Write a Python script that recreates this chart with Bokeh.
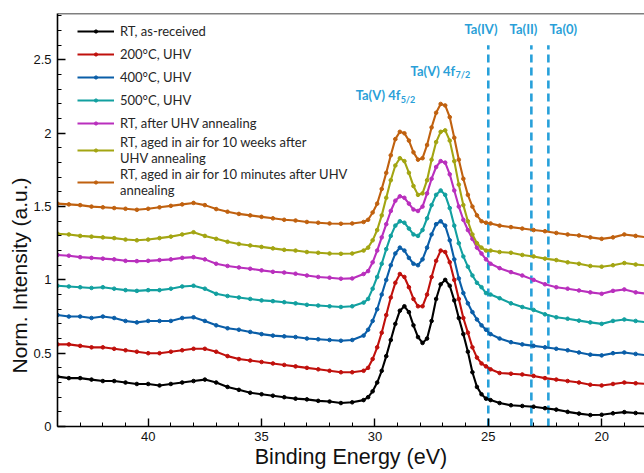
from bokeh.plotting import figure
from bokeh.models import (ColumnDataSource, Range1d, FixedTicker, Legend, LegendItem,
                          Span, Label, Title, CustomJSTickFormatter)
from bokeh.embed import file_html
from bokeh.resources import INLINE

# ---------------- data ----------------
energy = ([44.0, 43.5, 43.0, 42.5, 42.0, 41.5, 41.0, 40.5, 40.0, 39.5, 39.0, 38.5, 38.0, 37.5,
           37.0, 36.5, 36.0, 35.5, 35.0, 34.5, 34.0, 33.5, 33.0, 32.5, 32.0, 31.5, 31.0, 30.5]
          + [30.3, 30.1, 29.9, 29.7, 29.5, 29.3, 29.1, 28.9, 28.7, 28.5, 28.3, 28.1, 27.9, 27.7,
             27.5, 27.3, 27.1, 26.9, 26.7, 26.5, 26.3, 26.1, 25.9, 25.7, 25.5, 25.3, 25.1]
          + [24.9, 24.5, 24.0, 23.5, 23.0, 22.5, 22.0, 21.5, 21.0, 20.5, 20.0, 19.5, 19.0, 18.5, 18.0])

rt_received = ([0.34, 0.33, 0.33, 0.32, 0.31, 0.31, 0.30, 0.29, 0.29, 0.28, 0.29, 0.30, 0.31, 0.32,
                0.30, 0.27, 0.25, 0.23, 0.22, 0.21, 0.20, 0.19, 0.185, 0.175, 0.17, 0.16, 0.165, 0.18]
               + [0.20, 0.24, 0.30, 0.38, 0.48, 0.59, 0.70, 0.79, 0.82, 0.78, 0.69, 0.61, 0.57, 0.60,
                  0.72, 0.87, 0.97, 1.00, 0.96, 0.86, 0.74, 0.63, 0.51, 0.37, 0.27, 0.22, 0.19]
               + [0.18, 0.16, 0.145, 0.14, 0.135, 0.125, 0.115, 0.10, 0.088, 0.078, 0.08, 0.09, 0.098, 0.092, 0.087])

uhv_200 = ([0.56, 0.56, 0.55, 0.54, 0.54, 0.53, 0.52, 0.51, 0.50, 0.50, 0.51, 0.52, 0.53, 0.53,
            0.51, 0.48, 0.46, 0.45, 0.44, 0.43, 0.42, 0.41, 0.40, 0.39, 0.38, 0.37, 0.37, 0.38]
           + [0.40, 0.46, 0.54, 0.64, 0.76, 0.88, 0.98, 1.04, 1.02, 0.95, 0.87, 0.82, 0.82, 0.90,
              1.02, 1.13, 1.20, 1.19, 1.12, 1.00, 0.87, 0.74, 0.64, 0.54, 0.47, 0.43, 0.41]
           + [0.39, 0.365, 0.36, 0.355, 0.345, 0.33, 0.32, 0.31, 0.30, 0.285, 0.28, 0.29, 0.30, 0.295, 0.29])

uhv_400 = ([0.76, 0.75, 0.75, 0.74, 0.75, 0.74, 0.72, 0.71, 0.72, 0.72, 0.72, 0.74, 0.745, 0.72,
            0.69, 0.67, 0.66, 0.645, 0.63, 0.62, 0.615, 0.61, 0.60, 0.595, 0.59, 0.585, 0.59, 0.62]
           + [0.66, 0.72, 0.80, 0.90, 1.00, 1.10, 1.18, 1.22, 1.20, 1.15, 1.11, 1.10, 1.14, 1.22,
              1.31, 1.38, 1.40, 1.37, 1.27, 1.14, 1.01, 0.91, 0.84, 0.78, 0.73, 0.69, 0.66]
           + [0.63, 0.60, 0.575, 0.56, 0.55, 0.54, 0.53, 0.52, 0.505, 0.49, 0.485, 0.50, 0.505, 0.495, 0.485])

uhv_500 = ([0.96, 0.955, 0.95, 0.945, 0.95, 0.94, 0.93, 0.925, 0.93, 0.93, 0.94, 0.955, 0.96, 0.94,
            0.905, 0.89, 0.88, 0.87, 0.86, 0.855, 0.848, 0.84, 0.83, 0.825, 0.82, 0.815, 0.82, 0.845]
           + [0.87, 0.94, 1.02, 1.11, 1.21, 1.30, 1.37, 1.40, 1.39, 1.35, 1.31, 1.30, 1.34, 1.42,
              1.51, 1.58, 1.61, 1.58, 1.49, 1.37, 1.25, 1.16, 1.09, 1.03, 0.98, 0.95, 0.91]
           + [0.90, 0.875, 0.84, 0.815, 0.795, 0.765, 0.745, 0.735, 0.722, 0.71, 0.70, 0.72, 0.73, 0.72, 0.71])

rt_after = ([1.17, 1.165, 1.155, 1.15, 1.145, 1.14, 1.13, 1.128, 1.13, 1.135, 1.14, 1.15, 1.155, 1.14,
             1.11, 1.095, 1.085, 1.076, 1.065, 1.055, 1.05, 1.042, 1.03, 1.02, 1.015, 1.008, 1.01, 1.04]
            + [1.06, 1.12, 1.20, 1.29, 1.38, 1.47, 1.54, 1.57, 1.56, 1.52, 1.48, 1.47, 1.50, 1.59,
               1.69, 1.77, 1.81, 1.80, 1.72, 1.61, 1.50, 1.41, 1.34, 1.28, 1.22, 1.18, 1.14]
            + [1.11, 1.08, 1.053, 1.03, 1.00, 0.97, 0.95, 0.94, 0.928, 0.915, 0.905, 0.925, 0.935, 0.915, 0.905])

aged_weeks = ([1.315, 1.31, 1.30, 1.295, 1.29, 1.285, 1.275, 1.27, 1.275, 1.285, 1.295, 1.31, 1.325, 1.30,
               1.28, 1.26, 1.245, 1.235, 1.225, 1.215, 1.205, 1.20, 1.19, 1.185, 1.18, 1.178, 1.18, 1.20]
              + [1.22, 1.27, 1.34, 1.44, 1.56, 1.68, 1.78, 1.83, 1.81, 1.73, 1.64, 1.58, 1.59, 1.68,
                 1.82, 1.94, 2.01, 2.02, 1.95, 1.81, 1.65, 1.51, 1.40, 1.31, 1.25, 1.22, 1.20]
              + [1.20, 1.19, 1.185, 1.17, 1.16, 1.145, 1.135, 1.12, 1.11, 1.095, 1.09, 1.10, 1.115, 1.105, 1.098])

aged_minutes = ([1.52, 1.515, 1.51, 1.50, 1.495, 1.49, 1.485, 1.478, 1.485, 1.495, 1.505, 1.515, 1.525, 1.51,
                 1.483, 1.465, 1.45, 1.44, 1.43, 1.42, 1.41, 1.405, 1.395, 1.39, 1.385, 1.383, 1.385, 1.395]
                + [1.41, 1.46, 1.52, 1.62, 1.73, 1.85, 1.96, 2.01, 2.00, 1.95, 1.87, 1.82, 1.83, 1.92,
                   2.04, 2.14, 2.20, 2.19, 2.11, 1.97, 1.82, 1.69, 1.58, 1.50, 1.44, 1.40, 1.39]
                + [1.385, 1.37, 1.36, 1.35, 1.34, 1.332, 1.32, 1.31, 1.303, 1.29, 1.28, 1.29, 1.31, 1.30, 1.29])

series_names = ["RT, as-received", "200°C, UHV", "400°C, UHV", "500°C, UHV",
                "RT, after UHV annealing",
                "RT, aged in air for 10 weeks after\nUHV annealing",
                "RT, aged in air for 10 minutes after UHV\nannealing"]
series_values = [rt_received, uhv_200, uhv_400, uhv_500, rt_after, aged_weeks, aged_minutes]
series_colors = ["#000000", "#c0100c", "#0a5ea8", "#12a0a0", "#b92fbd", "#a3a512", "#c0610f"]

ref_energies = [25.0, 23.1, 22.35]          # Ta(IV), Ta(II), Ta(0)
ref_labels = ["Ta(IV)", "Ta(II)", "Ta(0)"]

x_major = [20, 25, 30, 35, 40]
x_minor = [18, 19, 21, 22, 23, 24, 26, 27, 28, 29, 31, 32, 33, 34, 36, 37, 38, 39, 41, 42, 43, 44]
y_major = [0, 0.5, 1, 1.5, 2, 2.5]
y_minor = [0.1, 0.2, 0.3, 0.4, 0.6, 0.7, 0.8, 0.9, 1.1, 1.2, 1.3, 1.4, 1.6, 1.7, 1.8, 1.9,
           2.1, 2.2, 2.3, 2.4, 2.6, 2.7, 2.8]

# ---------------- figure ----------------
p = figure(width=644, height=473, output_backend="svg", toolbar_location=None,
           x_range=Range1d(44.0, 18.11), y_range=Range1d(0, 2.817),
           min_border_left=57, min_border_right=0, min_border_top=13, min_border_bottom=47)
p.outline_line_color = None
p.grid.visible = False
p.background_fill_color = "white"

AX_FONT = "Liberation Sans"
for ax in (p.xaxis[0], p.yaxis[0]):
    ax.axis_line_color = "black"
    ax.axis_line_width = 1.6
    ax.major_tick_in = 8
    ax.major_tick_out = 0
    ax.minor_tick_in = 4
    ax.minor_tick_out = 0
    ax.major_tick_line_width = 1.4
    ax.minor_tick_line_width = 1
    ax.major_label_text_font = AX_FONT
    ax.major_label_text_font_size = "13px"
    ax.major_label_text_color = "#111111"
    ax.axis_label_text_font = AX_FONT
    ax.axis_label_text_font_size = "21.5px"
    ax.axis_label_text_font_style = "normal"
    ax.axis_label_text_color = "#111111"

p.xaxis[0].ticker = FixedTicker(ticks=x_major, minor_ticks=x_minor)
p.yaxis[0].ticker = FixedTicker(ticks=y_major, minor_ticks=y_minor)
p.yaxis[0].formatter = CustomJSTickFormatter(code="return Number(tick.toFixed(1)).toString();")
p.xaxis[0].axis_label = "Binding Energy (eV)"
p.xaxis[0].major_label_standoff = 5
p.yaxis[0].major_label_standoff = 6
p.xaxis[0].axis_label_standoff = 1

# y-axis title: in the reference it sits below the frame centre, so use a side title
p.add_layout(Title(text="Norm. Intensity (a.u.)", align="left", offset=53,
                   text_font=AX_FONT, text_font_size="21px", text_font_style="normal",
                   text_color="#111111", standoff=0), "left")

p.add_layout(Span(location=2.817, dimension="width", line_color="black", line_width=1.6))

# reference dashed lines
ref_src = ColumnDataSource(dict(x=ref_energies, y0=[0] * 3, y1=[2.6] * 3))
p.segment(x0="x", y0="y0", x1="x", y1="y1", source=ref_src,
          line_color="#27a0da", line_width=2.6, line_dash="8 5")

items = []
for name, vals, col in zip(series_names, series_values, series_colors):
    src = ColumnDataSource(dict(x=energy, y=vals))
    r1 = p.line("x", "y", source=src, line_color=col, line_width=2.1)
    r2 = p.scatter("x", "y", source=src, size=3.6, color=col)
    items.append(LegendItem(label=name, renderers=[r1, r2]))

legend = Legend(items=items, location=(20, 228), spacing=0, padding=0, margin=0,
                glyph_width=37, glyph_height=8, label_height=23, label_standoff=6,
                label_text_font="Lato", label_text_font_size="13px",
                label_text_line_height=1.35,
                label_text_color="#262626", border_line_color=None,
                background_fill_alpha=0)
p.add_layout(legend)

BLUE = "#2a9fd8"
LFONT = "Lato"
for xe, lab in zip([26.05, 24.06, 22.3], ref_labels):
    p.add_layout(Label(x=xe, y=2.71, text=lab, text_font=LFONT, text_font_size="13px",
                       text_font_style="bold", text_color=BLUE, text_baseline="middle"))

for xe, ye, sub in [(28.43, 2.428, "7/2"), (30.85, 2.258, "5/2")]:
    p.add_layout(Label(x=xe, y=ye, text="Ta(V) 4f", text_font=LFONT, text_font_size="13px",
                       text_font_style="bold", text_color=BLUE, text_baseline="middle"))
    p.add_layout(Label(x=xe, y=ye, x_offset=45, y_offset=-4, text=sub, text_font=LFONT,
                       text_font_size="9px", text_font_style="bold", text_color=BLUE,
                       text_baseline="middle"))

open("out.html", "w").write(file_html(p, INLINE))
